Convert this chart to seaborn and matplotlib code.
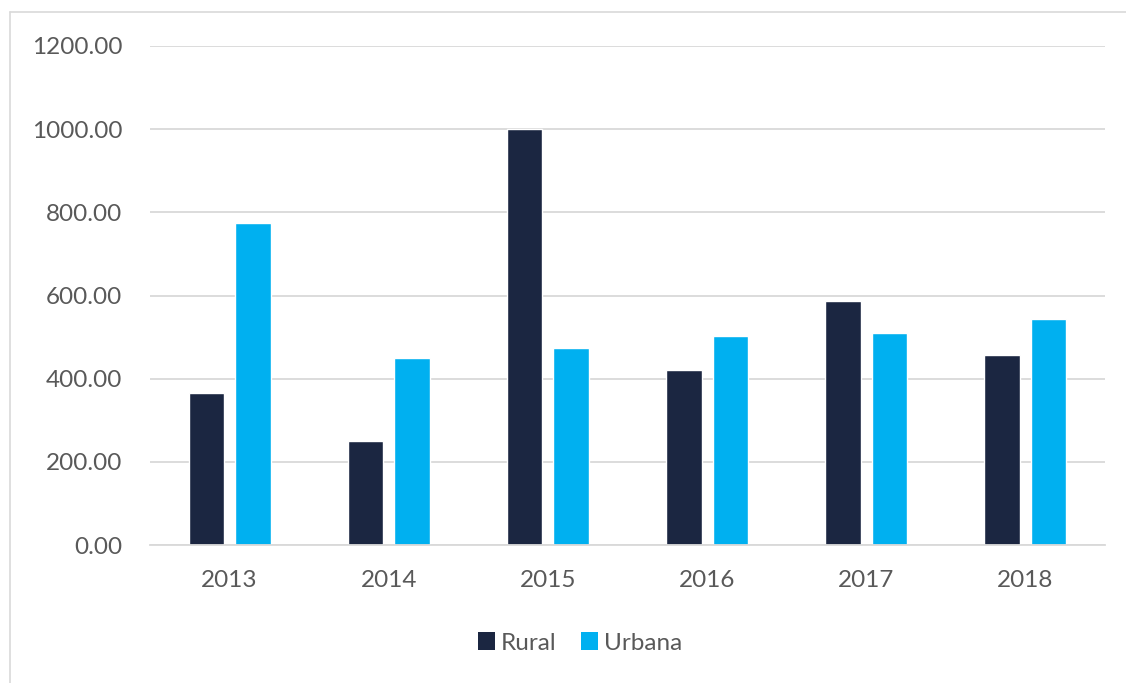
import matplotlib
matplotlib.use("Agg")
import matplotlib.pyplot as plt
from matplotlib.lines import Line2D
from matplotlib.patches import Patch
import seaborn as sns
import pandas as pd

years = ["2013", "2014", "2015", "2016", "2017", "2018"]
rural = [365, 250, 1000, 421, 587, 456]
urbana = [775, 450, 474, 503, 509, 543]
series_names = ["Rural", "Urbana"]
colors = ["#1b2641", "#00b0f0"]
yticks = [0, 200, 400, 600, 800, 1000, 1200]

df = pd.DataFrame({
    "year": years * 2,
    "value": rural + urbana,
    "serie": [series_names[0]] * len(years) + [series_names[1]] * len(years),
})

sns.set_theme(style="white")
plt.rcParams["font.family"] = ["Lato", "DejaVu Sans"]

W, H = 1126, 683
fig = plt.figure(figsize=(W / 100, H / 100), dpi=100)
ax = fig.add_axes([150 / W, 1 - 545 / H, (1105 - 150) / W, (545 - 46) / H])

sns.barplot(data=df, x="year", y="value", hue="serie", palette=colors,
            width=0.585, gap=0.237, ax=ax, legend=False, saturation=1)

ax.set_xlim(-0.5, 5.5)
ax.set_ylim(0, 1200)
ax.set_yticks(yticks)
ax.set_yticklabels([f"{v:.2f}" for v in yticks])
ax.set_xlabel("")
ax.set_ylabel("")
ax.yaxis.grid(True, color="#d9d9d9", linewidth=1.3)
ax.set_axisbelow(True)
for s in ["top", "right", "left"]:
    ax.spines[s].set_visible(False)
ax.spines["bottom"].set_color("#d9d9d9")
ax.spines["bottom"].set_linewidth(1.3)
ax.tick_params(axis="y", length=0, pad=20, labelsize=17.5, labelcolor="#595959")
ax.tick_params(axis="x", length=0, pad=18, labelsize=17.5, labelcolor="#595959")

handles = [Patch(facecolor=c, edgecolor="none") for c in colors]
fig.legend(handles, series_names, loc="center", bbox_to_anchor=(580 / W, 1 - 643 / H),
           ncol=2, frameon=False, fontsize=17.5, labelcolor="#595959",
           handlelength=0.7, handleheight=0.7, handletextpad=0.25, columnspacing=1.0)

# outer frame lines
fig.add_artist(Line2D([10 / W, 1.0], [1 - 12 / H, 1 - 12 / H], color="#d9d9d9", linewidth=1.2,
                      transform=fig.transFigure))
fig.add_artist(Line2D([10 / W, 10 / W], [1 - 12 / H, 0.0], color="#d9d9d9", linewidth=1.2,
                      transform=fig.transFigure))

fig.savefig("out.png", dpi=100, facecolor="white")
